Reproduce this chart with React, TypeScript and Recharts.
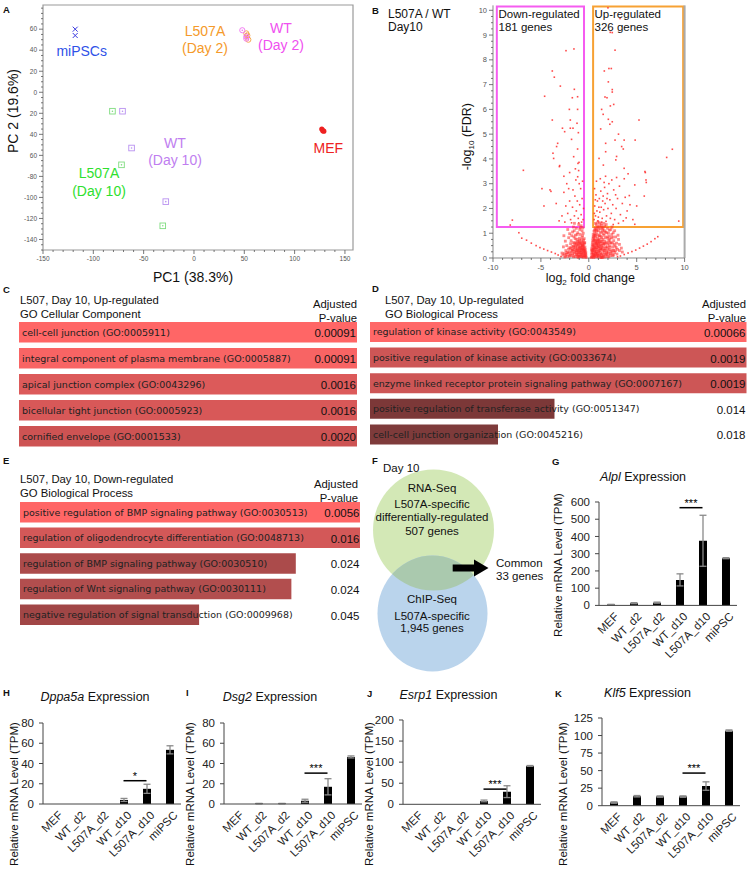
import React from "react";
import {
  ScatterChart,
  Scatter,
  BarChart,
  Bar,
  Cell,
  XAxis,
  YAxis,
  ReferenceArea,
  ReferenceLine,
  LabelList,
  ErrorBar,
} from "recharts";

const FONT = "'Liberation Sans', Arial, sans-serif";
const GO_FONT = "'DejaVu Sans', sans-serif";

// ---- panel A: PCA ----
const MIPSC_PTS = [[-118, 60], [-118, 54]];
const MEF_PTS = [[127, -35], [128, -36.5], [129, -37]];
const L507A_D2_PTS = [[52, 56], [53, 54], [54, 50]];
const WT_D2_PTS = [[48, 59], [52, 53], [52, 51]];
const L507A_D10_PTS = [[-81, -18], [-72, -69], [-31, -127]];
const WT_D10_PTS = [[-71, -18], [-62, -53], [-28, -104]];
const A_X_MAJOR = [-150, -100, -50, 0, 50, 100, 150];
const A_Y_MAJOR = [60, 40, 20, 0, -20, -40, -60, -80, -100, -120, -140];
const A_Y_LABELS = ["60", "40", "20", "0", "20", "40", "60", "-80", "-100", "-120", "-140"];

// ---- panel B: volcano ----
const VOLCANO_LEFT_CORE = [
  [-0.35, 0.05], [-0.5, 0.1], [-0.62, 0.22], [-0.8, 0.15], [-1.05, 0.08], [-1.3, 0.12], [-1.6, 0.05], [-1.9, 0.1], [-2.2, 0.07], [-2.5, 0.04],
  [-0.45, 0.3], [-0.7, 0.35], [-0.95, 0.3], [-1.2, 0.4], [-1.45, 0.28], [-1.75, 0.33], [-2.05, 0.25], [-2.4, 0.3], [-2.8, 0.2], [-0.55, 0.45],
  [-0.85, 0.5], [-1.1, 0.55], [-1.35, 0.62], [-1.6, 0.48], [-1.9, 0.58], [-2.3, 0.5], [-2.65, 0.45], [-0.6, 0.65], [-0.78, 0.72], [-1.0, 0.8],
  [-1.25, 0.75], [-1.55, 0.85], [-1.85, 0.7], [-2.1, 0.82], [-2.45, 0.68], [-0.65, 0.9], [-0.9, 0.95], [-1.15, 1.02], [-1.4, 0.92], [-1.7, 1.05],
  [-2.0, 0.98], [-0.7, 1.1], [-0.95, 1.15], [-1.3, 1.2], [-1.6, 1.25], [-0.8, 1.3], [-1.05, 1.35], [-1.5, 1.4], [-2.2, 1.15], [-2.6, 0.9],
  [-0.4, 0.18], [-0.52, 0.55], [-0.72, 0.82], [-1.08, 0.22], [-1.38, 0.45], [-1.68, 0.18], [-1.98, 0.42], [-2.35, 0.15], [-0.58, 1.0], [-0.88, 1.22],
  [-1.18, 0.66], [-1.48, 0.6], [-1.78, 0.9], [-0.48, 0.78], [-0.68, 0.05], [-0.92, 0.62], [-1.22, 0.95], [-1.52, 1.1], [-0.75, 0.28], [-1.02, 0.46],
  [-0.3, 0.1], [-0.42, 0.62], [-0.62, 1.22], [-1.12, 0.14], [-0.98, 0.72], [-0.82, 0.38], [-0.56, 0.32], [-1.28, 0.3], [-0.66, 0.52], [-1.42, 0.78],
];
const VOLCANO_LEFT_BASE = [
  [-0.28, 0.02], [-0.33, 0.14], [-0.38, 0.25], [-0.44, 0.08], [-0.47, 0.38], [-0.53, 0.2], [-0.58, 0.03], [-0.6, 0.36], [-0.64, 0.12], [-0.7, 0.48],
  [-0.73, 0.18], [-0.77, 0.06], [-0.83, 0.3], [-0.87, 0.42], [-0.9, 0.1], [-0.96, 0.2], [-1.0, 0.58], [-1.04, 0.34], [-1.1, 0.02], [-1.14, 0.25],
  [-1.2, 0.5], [-1.24, 0.16], [-1.33, 0.36], [-1.4, 0.06], [-1.44, 0.52], [-1.5, 0.2], [-1.58, 0.34], [-1.66, 0.1], [-1.74, 0.46], [-1.82, 0.24],
  [-1.96, 0.16], [-2.12, 0.36], [-2.28, 0.22], [-2.55, 0.18], [-0.36, 0.34], [-0.5, 0.28], [-0.62, 0.5], [-0.94, 0.06], [-1.28, 0.56], [-1.62, 0.62],
  [-0.31, 0.22], [-0.4, 0.44], [-0.46, 0.6], [-0.55, 0.72], [-0.68, 0.4], [-0.8, 0.58], [-0.86, 0.22], [-1.06, 0.66], [-1.16, 0.06], [-1.36, 0.22],
  [-1.54, 0.42], [-1.7, 0.3], [-1.88, 0.38], [-2.02, 0.08], [-2.18, 0.2], [-2.42, 0.08], [-2.7, 0.12], [-0.74, 0.62], [-0.98, 0.4], [-1.18, 0.32],
];
const VOLCANO_RIGHT_CORE = [
  [0.3, 0.05], [0.45, 0.15], [0.6, 0.08], [0.8, 0.2], [1.0, 0.1], [1.25, 0.15], [1.5, 0.07], [1.8, 0.12], [2.1, 0.05], [2.5, 0.1],
  [0.4, 0.3], [0.55, 0.4], [0.75, 0.35], [0.95, 0.45], [1.15, 0.3], [1.4, 0.4], [1.7, 0.32], [2.0, 0.38], [2.3, 0.28], [2.7, 0.22],
  [0.5, 0.55], [0.65, 0.6], [0.85, 0.68], [1.05, 0.58], [1.3, 0.66], [1.55, 0.55], [1.85, 0.62], [2.15, 0.5], [2.5, 0.45], [3.0, 0.35],
  [0.55, 0.78], [0.72, 0.85], [0.92, 0.8], [1.12, 0.9], [1.35, 0.82], [1.6, 0.92], [1.9, 0.85], [2.2, 0.75], [2.6, 0.7], [3.2, 0.55],
  [0.6, 0.98], [0.78, 1.05], [1.0, 1.1], [1.2, 1.02], [1.45, 1.12], [1.75, 1.05], [2.05, 1.0], [2.4, 0.95], [2.8, 0.85], [0.65, 1.2],
  [0.88, 1.25], [1.1, 1.3], [1.38, 1.22], [1.65, 1.28], [1.95, 1.2], [2.3, 1.15], [2.7, 1.1], [0.7, 1.4], [0.95, 1.45], [1.3, 1.38],
  [0.35, 0.2], [0.5, 0.02], [0.68, 0.25], [0.88, 0.05], [1.08, 0.38], [1.32, 0.02], [1.62, 0.22], [1.92, 0.45], [2.25, 0.18], [2.6, 0.3],
  [0.48, 0.68], [0.62, 0.42], [0.82, 0.52], [1.02, 0.72], [1.22, 0.48], [1.48, 0.75], [1.78, 0.45], [2.08, 0.7], [2.45, 0.6], [2.9, 0.6],
  [0.58, 0.9], [0.74, 1.15], [1.18, 1.18], [1.52, 0.98], [1.82, 1.35], [2.12, 0.88], [2.55, 1.02], [3.1, 0.75], [3.4, 0.4], [0.52, 0.12],
  [0.42, 0.48], [0.98, 0.28], [1.42, 0.58], [1.68, 0.68], [2.02, 0.25], [2.35, 0.82], [0.8, 1.35], [1.05, 0.9], [1.28, 0.88], [1.58, 1.4],
  [0.32, 0.4], [0.44, 0.82], [0.54, 1.08], [0.66, 0.18], [0.7, 0.72], [0.86, 0.95], [0.9, 0.15], [1.14, 0.66], [1.26, 0.35], [1.36, 1.05],
  [1.56, 0.3], [1.72, 0.82], [1.88, 0.2], [2.18, 0.62], [2.42, 1.25], [2.75, 0.48], [3.05, 0.92], [0.38, 0.62], [0.46, 0.95], [0.78, 0.6],
];
const VOLCANO_RIGHT_BASE = [
  [0.26, 0.02], [0.3, 0.16], [0.34, 0.28], [0.38, 0.06], [0.43, 0.36], [0.47, 0.22], [0.52, 0.5], [0.56, 0.1], [0.6, 0.3], [0.63, 0.04],
  [0.67, 0.45], [0.71, 0.14], [0.76, 0.26], [0.79, 0.55], [0.83, 0.08], [0.86, 0.36], [0.9, 0.6], [0.93, 0.18], [0.97, 0.5], [1.01, 0.04],
  [1.04, 0.26], [1.09, 0.46], [1.13, 0.12], [1.17, 0.56], [1.2, 0.22], [1.24, 0.38], [1.3, 0.08], [1.34, 0.5], [1.39, 0.18], [1.44, 0.32],
  [1.5, 0.44], [1.54, 0.12], [1.6, 0.6], [1.66, 0.04], [1.72, 0.38], [1.78, 0.16], [1.86, 0.28], [1.94, 0.06], [2.04, 0.16], [2.16, 0.34],
  [2.28, 0.1], [2.4, 0.22], [2.58, 0.12], [2.78, 0.3], [0.5, 0.35], [0.72, 0.66], [0.94, 0.72], [1.16, 0.76], [1.4, 0.68], [1.7, 0.58],
  [0.36, 0.52], [0.58, 0.72], [0.82, 0.42], [1.06, 0.64], [1.26, 0.02], [1.46, 0.02], [1.98, 0.58], [2.22, 0.44], [2.48, 0.32], [2.66, 0.56],
  [0.29, 0.32], [0.41, 0.72], [0.49, 0.86], [0.61, 1.12], [0.69, 0.92], [0.84, 1.12], [0.99, 1.22], [1.11, 1.42], [1.33, 1.3], [1.49, 1.2],
  [1.63, 1.1], [1.85, 1.02], [2.0, 0.8], [2.14, 1.12], [2.32, 0.62], [2.52, 0.84], [2.86, 0.42], [3.2, 0.3], [2.94, 0.16], [3.5, 0.24],
];
const VOLCANO_LEFT_MID = [
  [-0.6, 1.55], [-0.8, 1.75], [-0.55, 2.0], [-0.95, 2.15], [-0.7, 2.4], [-1.1, 1.6], [-1.3, 1.9], [-1.2, 2.3], [-1.5, 1.7], [-1.7, 2.05],
  [-1.45, 2.5], [-1.9, 1.55], [-2.0, 2.3], [-2.2, 1.8], [-2.4, 2.1], [-1.65, 2.75], [-2.1, 2.8], [-0.85, 2.8], [-1.0, 3.0], [-2.6, 2.65],
  [-2.8, 1.7], [-3.1, 1.5], [-0.65, 3.1], [-1.35, 3.15], [-0.75, 1.45], [-1.05, 1.42], [-1.8, 1.42], [-2.5, 1.45], [-3.4, 2.2], [-2.3, 3.0],
];
const VOLCANO_RIGHT_MID = [
  [0.55, 1.55], [0.7, 1.7], [0.85, 1.9], [0.62, 2.1], [0.9, 2.3], [0.75, 2.55], [0.6, 2.8], [1.0, 1.65], [1.15, 1.85], [1.3, 2.05],
  [1.1, 2.4], [1.25, 2.7], [1.4, 1.6], [1.55, 1.95], [1.7, 2.2], [1.5, 2.5], [1.65, 2.85], [1.85, 1.7], [2.0, 2.0], [2.2, 2.35],
  [1.95, 2.6], [2.1, 3.0], [2.35, 1.8], [2.5, 2.15], [2.7, 1.55], [2.85, 2.0], [3.0, 2.4], [2.6, 2.75], [3.3, 1.75], [3.5, 2.2],
  [3.8, 2.45], [3.6, 1.5], [4.0, 1.9], [4.3, 2.15], [0.8, 3.1], [1.2, 3.2], [1.6, 3.05], [2.4, 3.15], [0.95, 1.5], [1.35, 1.45],
  [1.8, 1.48], [2.25, 1.6], [0.68, 2.35], [1.05, 2.05], [1.45, 2.3], [1.9, 2.4], [2.8, 2.55], [3.2, 2.9], [4.6, 1.55], [5.0, 2.1],
  [5.9, 3.45], [6.0, 3.05], [2.9, 3.25], [3.7, 3.2], [0.58, 1.8], [1.75, 3.3], [2.55, 1.35], [3.1, 1.4], [4.8, 1.36], [3.9, 1.62],
];
const VOLCANO_ARCS = [
  [-2.9, 0.06], [-3.2, 0.12], [-3.5, 0.18], [-3.9, 0.24], [-4.3, 0.3], [-4.7, 0.36], [-5.1, 0.42], [-5.5, 0.5], [-6.0, 0.6], [-6.5, 0.72], [-7.0, 0.8], [-7.3, 1.02],
  [3.0, 0.05], [3.3, 0.08], [3.7, 0.14], [4.1, 0.2], [4.5, 0.26], [4.9, 0.32], [5.3, 0.4], [5.7, 0.48], [6.1, 0.56], [6.5, 0.66], [6.9, 0.78], [7.2, 0.86],
];
const VOLCANO_OUTLIERS = [
  [-1.55, 8.44], [-2.38, 8.37], [-3.81, 7.55], [-3.6, 7.3], [-2.97, 6.94], [-1.51, 6.81], [-4.61, 6.53], [-1.72, 6.47], [-1.17, 6.51], [-2.03, 6.0],
  [-1.17, 6.0], [-1.93, 5.57], [-3.81, 5.57], [-1.23, 5.44], [-2.75, 5.24], [-1.93, 5.24], [-1.65, 5.24], [-2.52, 5.1], [-1.09, 5.06], [-1.8, 4.79],
  [-3.25, 4.63], [-1.17, 4.4], [-3.74, 4.23], [-3.67, 4.02], [-1.58, 4.09], [-3.04, 3.73], [-1.13, 3.82], [-1.06, 3.53], [-6.83, 3.54], [-4.89, 2.8],
  [-3.95, 2.69], [-4.68, 2.1], [-7.98, 1.53], [-8.2, 1.33], [-3.36, 4.5], [-1.02, 3.86], [-1.16, 3.28], [-4.05, 2.75], [-3.07, 3.69], [-2.0, 3.45],
  [-1.4, 3.6], [-2.6, 3.3],
  [2.0, 10.1], [2.24, 9.11], [2.45, 9.1], [3.26, 9.67], [2.74, 8.39], [1.62, 7.55], [2.1, 7.65], [2.35, 7.65], [2.04, 7.11], [2.45, 6.8],
  [2.45, 6.7], [1.69, 6.5], [1.9, 6.47], [2.25, 6.14], [1.34, 6.0], [2.04, 5.6], [2.45, 5.5], [2.2, 5.4], [5.24, 5.57], [1.24, 5.21],
  [3.69, 4.76], [4.84, 4.76], [1.76, 4.63], [2.74, 4.76], [3.43, 4.5], [3.6, 4.4], [1.76, 4.29], [8.72, 4.39], [8.13, 4.06], [5.86, 3.49],
  [5.97, 3.15], [1.07, 4.02], [1.52, 3.75], [3.69, 3.62], [2.82, 3.96], [4.8, 2.95], [5.79, 2.5], [4.23, 2.52], [9.39, 1.49], [3.1, 5.0],
  [2.9, 4.1], [4.1, 3.4], [2.6, 6.2], [1.5, 5.8],
];
const B_X_MAJOR = [-10, -5, 0, 5, 10];

// ---- panels C, D, E: GO enrichment ----
const C_TERMS = [
  "cell-cell junction (GO:0005911)",
  "integral component of plasma membrane (GO:0005887)",
  "apical junction complex (GO:0043296)",
  "bicellular tight junction (GO:0005923)",
  "cornified envelope (GO:0001533)",
];
const C_PVALS = ["0.00091", "0.00091", "0.0016", "0.0016", "0.0020"];
const C_SCORES = [1, 1, 1, 1, 1];
const C_COLORS = ["#ff6666", "#f86464", "#dc5a5a", "#d85858", "#cd5353"];

const D_TERMS = [
  "regulation of kinase activity (GO:0043549)",
  "positive regulation of kinase activity (GO:0033674)",
  "enzyme linked receptor protein signaling pathway (GO:0007167)",
  "positive regulation of transferase activity (GO:0051347)",
  "cell-cell junction organization (GO:0045216)",
];
const D_PVALS = ["0.00066", "0.0019", "0.0019", "0.014", "0.018"];
const D_SCORES = [1, 1, 1, 0.49, 0.34];
const D_COLORS = ["#ff6868", "#cd5656", "#cd5656", "#7c3838", "#7e3b3b"];

const E_TERMS = [
  "positive regulation of BMP signaling pathway (GO:0030513)",
  "regulation of oligodendrocyte differentiation (GO:0048713)",
  "regulation of BMP signaling pathway (GO:0030510)",
  "regulation of Wnt signaling pathway (GO:0030111)",
  "negative regulation of signal transduction (GO:0009968)",
];
const E_PVALS = ["0.0056", "0.016", "0.024", "0.024", "0.045"];
const E_SCORES = [1, 1, 0.81, 0.797, 0.526];
const E_COLORS = ["#ff6666", "#d35858", "#ab4b4b", "#b24e4e", "#a14646"];

// ---- panels G-K: expression ----
const SAMPLES = ["MEF", "WT_d2", "L507A_d2", "WT_d10", "L507A_d10", "miPSC"];
const ALPL_TPM = [5, 13, 16, 148, 375, 274];
const ALPL_ERR = [1, 3, 3, 35, 148, 3];
const DPPA5A_TPM = [0, 0, 0, 4, 15, 53.5];
const DPPA5A_ERR = [0, 0, 0, 1.5, 4.5, 4];
const DSG2_TPM = [0, 0.4, 0.4, 3.2, 17, 46.5];
const DSG2_ERR = [0, 0.2, 0.2, 1.5, 8, 1];
const ESRP1_TPM = [0, 0, 0, 8, 30, 91];
const ESRP1_ERR = [0, 0, 0, 2, 14, 1];
const KLF5_TPM = [4.5, 13.5, 13, 13, 28, 107];
const KLF5_ERR = [1, 1, 1, 1, 6, 1];

const toPts = (arr: number[][]) => arr.map(([x, y]) => ({ x, y }));

function steps(a: number, b: number, s: number) {
  const out: number[] = [];
  for (let v = a; v <= b + 1e-9; v += s) out.push(Math.round(v * 100) / 100);
  return out;
}

// tick with minor marks, for the A/B axes
function makeTick(side: "left" | "bottom", isMajor: (v: number) => boolean, label: (v: number) => string, fs: number, color: string) {
  return (props: any) => {
    const { x, y, payload } = props;
    const major = isMajor(payload.value);
    const len = major ? 4 : 2;
    if (side === "left") {
      return (
        <g>
          <line x1={x} x2={x - len} y1={y} y2={y} stroke={color} strokeWidth={0.8} />
          {major && (
            <text x={x - 6} y={y} dy="0.35em" textAnchor="end" fontSize={fs} fill={color} fontFamily={FONT}>
              {label(payload.value)}
            </text>
          )}
        </g>
      );
    }
    return (
      <g>
        <line x1={x} x2={x} y1={y} y2={y + len} stroke={color} strokeWidth={0.8} />
        {major && (
          <text x={x} y={y + 6} dy="0.75em" textAnchor="middle" fontSize={fs} fill={color} fontFamily={FONT}>
            {label(payload.value)}
          </text>
        )}
      </g>
    );
  };
}

const crossShape = (p: any) => (
  <g stroke="#3a3ae0" strokeWidth={1}>
    <line x1={p.cx - 2.5} y1={p.cy - 2.5} x2={p.cx + 2.5} y2={p.cy + 2.5} />
    <line x1={p.cx - 2.5} y1={p.cy + 2.5} x2={p.cx + 2.5} y2={p.cy - 2.5} />
  </g>
);
const circleDot = (color: string) => (p: any) => (
  <g>
    <circle cx={p.cx} cy={p.cy} r={2.6} fill="none" stroke={color} strokeWidth={0.9} />
    <circle cx={p.cx} cy={p.cy} r={0.8} fill={color} />
  </g>
);
const squareDot = (color: string) => (p: any) => (
  <g>
    <rect x={p.cx - 2.8} y={p.cy - 2.8} width={5.6} height={5.6} fill="none" stroke={color} strokeWidth={0.9} />
    <circle cx={p.cx} cy={p.cy} r={0.8} fill={color} />
  </g>
);
const filledDot = (p: any) => <circle cx={p.cx} cy={p.cy} r={2.6} fill="#ee2020" />;
const volcanoDot = (p: any) => <rect x={p.cx - 0.8} y={p.cy - 0.8} width={1.6} height={1.6} fill="#ff2a2a" fillOpacity={0.85} />;
const coreDot = (p: any) => <rect x={p.cx - 1.4} y={p.cy - 1.4} width={2.8} height={2.8} fill="#ff2a2a" fillOpacity={0.55} />;

function PanelA() {
  const xTick = makeTick("bottom", (v) => A_X_MAJOR.includes(v), (v) => String(v), 6.5, "#555");
  const yTick = makeTick("left", (v) => A_Y_MAJOR.includes(v), (v) => A_Y_LABELS[A_Y_MAJOR.indexOf(v)], 6.5, "#555");
  return (
    <div style={{ position: "absolute", left: 0, top: 0 }}>
      <ScatterChart width={360} height={290} margin={{ top: 5, right: 7, bottom: 0, left: 0 }}>
        <XAxis type="number" dataKey="x" domain={[-150, 158]} ticks={steps(-150, 150, 10)} interval={0}
          tickSize={0} tickMargin={0} tickLine={false} axisLine={false} height={40} tick={xTick} allowDataOverflow />
        <YAxis type="number" dataKey="y" domain={[-150, 83]} ticks={steps(-150, 80, 5)} interval={0}
          tickSize={0} tickMargin={0} tickLine={false} axisLine={false} width={43} tick={yTick} allowDataOverflow />
        <ReferenceArea x1={-150} x2={158} y1={-150} y2={83} fill="none" stroke="#9a9a9a" strokeWidth={1.2} />
        <Scatter data={toPts(MIPSC_PTS)} shape={crossShape} isAnimationActive={false} />
        <Scatter data={toPts(MEF_PTS)} shape={filledDot} isAnimationActive={false} />
        <Scatter data={toPts(L507A_D2_PTS)} shape={circleDot("#f5a040")} isAnimationActive={false} />
        <Scatter data={toPts(WT_D2_PTS)} shape={circleDot("#f070f0")} isAnimationActive={false} />
        <Scatter data={toPts(L507A_D10_PTS)} shape={squareDot("#7fdc7f")} isAnimationActive={false} />
        <Scatter data={toPts(WT_D10_PTS)} shape={squareDot("#b890f0")} isAnimationActive={false} />
      </ScatterChart>
    </div>
  );
}

function PanelB() {
  const xTick = makeTick("bottom", (v) => B_X_MAJOR.includes(v), (v) => String(v), 7.5, "#555");
  const yTick = makeTick("left", (v) => Number.isInteger(v), (v) => String(v), 7.5, "#555");
  const core = toPts([...VOLCANO_LEFT_CORE, ...VOLCANO_LEFT_BASE, ...VOLCANO_RIGHT_CORE, ...VOLCANO_RIGHT_BASE]);
  const sparse = toPts([...VOLCANO_LEFT_MID, ...VOLCANO_RIGHT_MID, ...VOLCANO_ARCS, ...VOLCANO_OUTLIERS]);
  return (
    <div style={{ position: "absolute", left: 452.7, top: 0 }}>
      <ScatterChart width={236.6} height={288} margin={{ top: 5.35, right: 5, bottom: 0, left: 0 }}>
        <XAxis type="number" dataKey="x" domain={[-10, 10]} ticks={steps(-10, 10, 1)} interval={0}
          tickSize={0} tickMargin={0} tickLine={false} axisLine={{ stroke: "#888" }} height={30} tick={xTick} />
        <YAxis type="number" dataKey="y" domain={[0, 10.2]} ticks={steps(0, 10, 0.25)} interval={0}
          tickSize={0} tickMargin={0} tickLine={false} axisLine={{ stroke: "#888" }} width={40} tick={yTick} />
        <ReferenceLine x={10} stroke="#aaa" strokeWidth={2} />
        <Scatter data={core} shape={coreDot} isAnimationActive={false} />
        <Scatter data={sparse} shape={volcanoDot} isAnimationActive={false} />
        <ReferenceArea x1={-9.6} x2={-0.5} y1={1.25} y2={10.15} fill="none" stroke="#f55cf0" strokeWidth={2} />
        <ReferenceArea x1={0.45} x2={9.85} y1={1.25} y2={10.15} fill="none" stroke="#f7a133" strokeWidth={2} />
      </ScatterChart>
    </div>
  );
}

function GoPanel(props: { left: number; top: number; width: number; height: number; barSize: number; terms: string[]; pvals: string[]; scores: number[]; colors: string[] }) {
  const { left, top, width, height, barSize, terms, pvals, scores, colors } = props;
  const data = terms.map((t, i) => ({ name: t, score: scores[i], p: pvals[i] }));
  const renderName = (lp: any) => (
    <text x={lp.x + 3} y={lp.y + lp.height / 2} dy="0.35em" fontSize={9.5} fill="#222" fontFamily={GO_FONT}>
      {lp.value}
    </text>
  );
  const renderP = (lp: any) => (
    <text x={width - 1} y={lp.y + lp.height / 2 + 1} dy="0.35em" textAnchor="end" fontSize={11.5} fill="#111" fontFamily={FONT}>
      {lp.value}
    </text>
  );
  return (
    <div style={{ position: "absolute", left, top }}>
      <BarChart layout="vertical" width={width} height={height} data={data} barSize={barSize} margin={{ top: 0, right: 0, bottom: 0, left: 0 }}>
        <XAxis type="number" domain={[0, 1]} hide />
        <YAxis type="category" dataKey="name" hide />
        <Bar dataKey="score" isAnimationActive={false}>
          {data.map((d, i) => (
            <Cell key={d.name} fill={colors[i]} />
          ))}
          <LabelList dataKey="name" content={renderName} />
          <LabelList dataKey="p" content={renderP} />
        </Bar>
      </BarChart>
    </div>
  );
}

const rotTick = (props: any) => {
  const { x, y, payload } = props;
  return (
    <g transform={`translate(${x + 3},${y + 6}) rotate(-45)`}>
      <text x={0} y={0} dy="0.72em" textAnchor="end" fontSize={11.5} fill="#222" fontFamily={FONT}>
        {payload.value}
      </text>
    </g>
  );
};

function ExprChart(props: { axisX: number; top: number; bottom: number; max: number; ticks: number[]; values: number[]; errs: number[]; sigY: number; sig: string }) {
  const { axisX, top, bottom, max, ticks, values, errs, sigY, sig } = props;
  const data = SAMPLES.map((s, i) => ({ name: s, v: values[i], e: errs[i] }));
  const mTop = 14;
  const plotH = bottom - top;
  return (
    <div style={{ position: "absolute", left: axisX - 40, top: top - mTop }}>
      <BarChart width={40 + 138 + 4} height={mTop + plotH + 64} data={data} barSize={8} margin={{ top: mTop, right: 4, bottom: 0, left: 0 }}>
        <XAxis dataKey="name" height={64} interval={0} tickSize={0} tickMargin={0} tickLine={false} axisLine={{ stroke: "#444" }} tick={rotTick} />
        <YAxis type="number" domain={[0, max]} ticks={ticks} interval={0} width={40} tickSize={4} tickMargin={5}
          axisLine={{ stroke: "#444" }} tickLine={{ stroke: "#444" }} tick={{ fontSize: 11.5, fill: "#222", fontFamily: FONT }} allowDataOverflow />
        <Bar dataKey="v" fill="#000" isAnimationActive={false}>
          <ErrorBar dataKey="e" width={3.5} stroke="#8a8a8a" strokeWidth={1.3} />
        </Bar>
        <ReferenceLine segment={[{ x: "WT_d10", y: sigY }, { x: "L507A_d10", y: sigY }]} stroke="#000" strokeWidth={1.5}
          label={{ value: sig, position: "top", offset: 1, fontSize: 11, fill: "#000", fontFamily: FONT }} />
      </BarChart>
    </div>
  );
}

const T = (p: any) => <text fontFamily={FONT} fill="#111" {...p} />;

export default function App() {
  const letter = { fontSize: 9.5, fontWeight: 700 };
  return (
    <div style={{ position: "absolute", left: 0, top: 0, width: 749, height: 869, background: "#fff", overflow: "hidden" }}>
      {/* header text that the first GO bar partly hides */}
      <svg width={749} height={869} style={{ position: "absolute", left: 0, top: 0 }}>
        <T x={20} y={304} fontSize={11.3}>L507, Day 10, Up-regulated</T>
        <T x={20} y={317.5} fontSize={11.3}>GO Cellular Component</T>
        <T x={357} y={308} fontSize={11.3} textAnchor="end">Adjusted</T>
        <T x={357} y={321.5} fontSize={11.3} textAnchor="end">P-value</T>
        <T x={385} y={304} fontSize={11.3}>L507, Day 10, Up-regulated</T>
        <T x={385} y={318} fontSize={11.3}>GO Biological Process</T>
        <T x={746} y={308} fontSize={11.3} textAnchor="end">Adjusted</T>
        <T x={746} y={321.5} fontSize={11.3} textAnchor="end">P-value</T>
        <T x={20} y={482.5} fontSize={11.3}>L507, Day 10, Down-regulated</T>
        <T x={20} y={496.5} fontSize={11.3}>GO Biological Process</T>
        <T x={358} y={487.5} fontSize={11.3} textAnchor="end">Adjusted</T>
        <T x={358} y={501.5} fontSize={11.3} textAnchor="end">P-value</T>
      </svg>

      <PanelA />
      <PanelB />
      <GoPanel left={19} top={318.7} width={338} height={130} barSize={20.5} terms={C_TERMS} pvals={C_PVALS} scores={C_SCORES} colors={C_COLORS} />
      <GoPanel left={370} top={318.5} width={376.5} height={128} barSize={20} terms={D_TERMS} pvals={D_PVALS} scores={D_SCORES} colors={D_COLORS} />
      <GoPanel left={19.5} top={499} width={340.5} height={128} barSize={20.5} terms={E_TERMS} pvals={E_PVALS} scores={E_SCORES} colors={E_COLORS} />

      <ExprChart axisX={599} top={502.3} bottom={605.7} max={600} ticks={[0, 100, 200, 300, 400, 500, 600]} values={ALPL_TPM} errs={ALPL_ERR} sigY={567} sig="***" />
      <ExprChart axisX={43.3} top={723.3} bottom={804.3} max={80} ticks={[0, 20, 40, 60, 80]} values={DPPA5A_TPM} errs={DPPA5A_ERR} sigY={23} sig="*" />
      <ExprChart axisX={224.3} top={723.3} bottom={804.3} max={80} ticks={[0, 20, 40, 60, 80]} values={DSG2_TPM} errs={DSG2_ERR} sigY={30.5} sig="***" />
      <ExprChart axisX={403.3} top={720} bottom={804.3} max={200} ticks={[0, 50, 100, 150, 200]} values={ESRP1_TPM} errs={ESRP1_ERR} sigY={36} sig="***" />
      <ExprChart axisX={602.3} top={718.3} bottom={806} max={125} ticks={[0, 25, 50, 75, 100, 125]} values={KLF5_TPM} errs={KLF5_ERR} sigY={46.5} sig="***" />

      <svg width={749} height={869} style={{ position: "absolute", left: 0, top: 0, pointerEvents: "none" }}>
        {/* panel letters */}
        <T x={3} y={13} {...letter}>A</T>
        <T x={372} y={14} {...letter}>B</T>
        <T x={3} y={293} {...letter}>C</T>
        <T x={372} y={292} {...letter}>D</T>
        <T x={3} y={464} {...letter}>E</T>
        <T x={372} y={464} {...letter}>F</T>
        <T x={552} y={465} {...letter}>G</T>
        <T x={3} y={696} {...letter}>H</T>
        <T x={186} y={696} {...letter}>I</T>
        <T x={367} y={697} {...letter}>J</T>
        <T x={555} y={697} {...letter}>K</T>

        {/* A labels */}
        <T x={81.7} y={55.7} fontSize={14} fill="#2f52e8" textAnchor="middle">miPSCs</T>
        <T x={205} y={35.7} fontSize={14} fill="#f59a2a" textAnchor="middle">L507A</T>
        <T x={205} y={52.7} fontSize={14} fill="#f59a2a" textAnchor="middle">(Day 2)</T>
        <T x={281} y={33} fontSize={14} fill="#f050f0" textAnchor="middle">WT</T>
        <T x={281} y={50} fontSize={14} fill="#f050f0" textAnchor="middle">(Day 2)</T>
        <T x={175} y={147.7} fontSize={14} fill="#c07ef0" textAnchor="middle">WT</T>
        <T x={175} y={165} fontSize={14} fill="#c07ef0" textAnchor="middle">(Day 10)</T>
        <T x={99} y={178.3} fontSize={14} fill="#2ee02e" textAnchor="middle">L507A</T>
        <T x={99} y={195.7} fontSize={14} fill="#2ee02e" textAnchor="middle">(Day 10)</T>
        <T x={328.3} y={153.3} fontSize={14} fill="#ee2222" textAnchor="middle">MEF</T>
        <T x={0} y={0} fontSize={14} textAnchor="middle" transform="translate(17.7,111) rotate(-90)">PC 2 (19.6%)</T>
        <T x={193} y={282} fontSize={14} textAnchor="middle">PC1 (38.3%)</T>

        {/* B labels */}
        <T x={388} y={18} fontSize={12}>L507A / WT</T>
        <T x={388} y={31} fontSize={12}>Day10</T>
        <T x={498.5} y={17.5} fontSize={11.5}>Down-regulated</T>
        <T x={498.5} y={30.5} fontSize={11.5}>181 genes</T>
        <T x={594.5} y={17.5} fontSize={11.5}>Up-regulated</T>
        <T x={594.5} y={30.5} fontSize={11.5}>326 genes</T>
        <T x={0} y={0} fontSize={12.5} textAnchor="middle" transform="translate(471,136.7) rotate(-90)">
          -log<tspan fontSize={8} dy={3}>10</tspan><tspan dy={-3}> (FDR)</tspan>
        </T>
        <T x={590.3} y={282} fontSize={12.5} textAnchor="middle">
          log<tspan fontSize={8} dy={3}>2</tspan><tspan dy={-3}> fold change</tspan>
        </T>

        {/* F: Venn */}
        <defs>
          <clipPath id="chipClip">
            <ellipse cx={432.5} cy={613.5} rx={55} ry={58} />
          </clipPath>
        </defs>
        <circle cx={433.5} cy={530} r={60.5} fill="#d3e8b6" />
        <ellipse cx={432.5} cy={613.5} rx={55} ry={58} fill="#bad4ec" />
        <circle cx={433.5} cy={530} r={60.5} fill="#aac9ae" clipPath="url(#chipClip)" />
        <T x={383} y={471.7} fontSize={11.5}>Day 10</T>
        <T x={432} y={492.4} fontSize={11.5} textAnchor="middle">RNA-Seq</T>
        <T x={432} y={508} fontSize={11.5} textAnchor="middle">L507A-specific</T>
        <T x={432} y={520.8} fontSize={11.5} textAnchor="middle">differentially-regulated</T>
        <T x={432} y={535} fontSize={11.5} textAnchor="middle">507 genes</T>
        <T x={432} y={603} fontSize={11.5} textAnchor="middle">ChIP-Seq</T>
        <T x={432} y={619.8} fontSize={11.5} textAnchor="middle">L507A-specific</T>
        <T x={432} y={632.4} fontSize={11.5} textAnchor="middle">1,945 genes</T>
        <rect x={452.7} y={564.5} width={22} height={7} fill="#000" />
        <polygon points="474,559.5 488.5,568 474,576.5" fill="#000" />
        <T x={496} y={566.8} fontSize={11.5}>Common</T>
        <T x={496} y={580} fontSize={11.5}>33 genes</T>

        {/* expression titles */}
        <T x={643} y={481} fontSize={12.5} textAnchor="middle"><tspan fontStyle="italic">Alpl</tspan> Expression</T>
        <T x={95} y={701} fontSize={12.5} textAnchor="middle"><tspan fontStyle="italic">Dppa5a</tspan> Expression</T>
        <T x={270} y={701} fontSize={12.5} textAnchor="middle"><tspan fontStyle="italic">Dsg2</tspan> Expression</T>
        <T x={448.5} y={699} fontSize={12.5} textAnchor="middle"><tspan fontStyle="italic">Esrp1</tspan> Expression</T>
        <T x={647.5} y={697} fontSize={12.5} textAnchor="middle"><tspan fontStyle="italic">Klf5</tspan> Expression</T>
        <T x={0} y={0} fontSize={11.5} textAnchor="middle" transform="translate(562,565) rotate(-90)">Relative mRNA Level (TPM)</T>
        <T x={0} y={0} fontSize={11.5} textAnchor="middle" transform="translate(17.5,794) rotate(-90)">Relative mRNA Level (TPM)</T>
        <T x={0} y={0} fontSize={11.5} textAnchor="middle" transform="translate(194,794) rotate(-90)">Relative mRNA Level (TPM)</T>
        <T x={0} y={0} fontSize={11.5} textAnchor="middle" transform="translate(372.5,794) rotate(-90)">Relative mRNA Level (TPM)</T>
        <T x={0} y={0} fontSize={11.5} textAnchor="middle" transform="translate(566.5,794) rotate(-90)">Relative mRNA Level (TPM)</T>
      </svg>
    </div>
  );
}
